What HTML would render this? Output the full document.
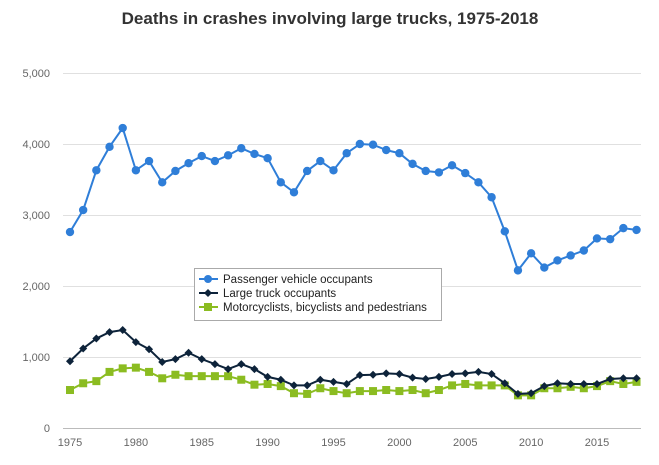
<!DOCTYPE html>
<html><head><meta charset="utf-8"><style>
body{margin:0;background:#fff;font-family:"Liberation Sans",sans-serif}
svg text{font-family:"Liberation Sans",sans-serif}
</style></head><body>
<svg id="c" width="659" height="460">
<text x="330" y="24" text-anchor="middle" font-size="17" font-weight="bold" fill="#333">Deaths in crashes involving large trucks, 1975-2018</text>
<g id="grid"></g><g id="series"></g>
<g>
<rect x="194.5" y="268.5" width="247" height="52" fill="#fff" stroke="#aaa"/>
<g><line x1="199" x2="218" y1="279" y2="279" stroke="#2f7ed8" stroke-width="2"/><circle cx="208" cy="279" r="4" fill="#2f7ed8"/><text x="223" y="283" font-size="11.5" fill="#222">Passenger vehicle occupants</text></g>
<g><line x1="199" x2="218" y1="293" y2="293" stroke="#0d233a" stroke-width="2"/><path d="M208 289L212 293L208 297L204 293Z" fill="#0d233a"/><text x="223" y="297" font-size="11.5" fill="#222">Large truck occupants</text></g>
<g><line x1="199" x2="218" y1="307" y2="307" stroke="#8bbc21" stroke-width="2"/><rect x="204" y="303" width="8" height="8" fill="#8bbc21"/><text x="223" y="311" font-size="11.5" fill="#222">Motorcyclists, bicyclists and pedestrians</text></g>
</g>
</svg>
<script>
const years=[];for(let y=1975;y<=2018;y++)years.push(y);
const passenger=[2760,3070,3630,3960,4225,3630,3760,3460,3620,3730,3830,3760,3840,3940,3860,3800,3460,3320,3620,3760,3630,3870,4000,3990,3915,3870,3720,3620,3600,3700,3590,3460,3250,2770,2220,2460,2260,2360,2430,2500,2670,2660,2815,2790];
const truck=[940,1120,1260,1350,1380,1210,1110,930,970,1060,970,900,830,900,830,720,680,600,600,680,650,620,745,750,770,760,710,690,720,760,770,790,760,630,480,490,590,630,620,620,620,690,700,700];
const moto=[535,630,660,790,840,850,790,700,750,730,730,730,730,680,610,620,590,490,480,560,520,490,520,520,535,520,535,490,535,600,620,600,600,600,460,460,560,560,580,560,590,660,620,650];
const yTicks=[0,1000,2000,3000,4000,5000];
const yLabels=["0","1,000","2,000","3,000","4,000","5,000"];
const xTicks=[1975,1980,1985,1990,1995,2000,2005,2010,2015];
const NS="http://www.w3.org/2000/svg";
const X=y=>70+(y-1975)*13.175, Y=v=>428-v*0.071;
function mk(t,a,p){const e=document.createElementNS(NS,t);for(const k in a)e.setAttribute(k,a[k]);p.appendChild(e);return e;}
const g=document.getElementById('grid');
yTicks.forEach((v,i)=>{const l=mk('line',{x1:63,x2:641,y1:Y(v)+.5,y2:Y(v)+.5,stroke:i==0?'#bbb':'#e0e0e0'},g);


const t=mk('text',{x:50,y:Y(v)+4,'text-anchor':'end','font-size':11,fill:'#666'},g);t.textContent=yLabels[i];

});
xTicks.forEach(y=>{const t=mk('text',{x:X(y),y:446,'text-anchor':'middle','font-size':11,fill:'#666'},g);t.textContent=y;

});
const s=document.getElementById('series');
function series(data,color,shape,name){
const pl=mk('polyline',{points:data.map((v,i)=>X(years[i])+','+Y(v)).join(' '),fill:'none',stroke:color,'stroke-width':2},s);


data.forEach((v,i)=>{const x=X(years[i]),y=Y(v);let e;
if(shape=='c')e=mk('circle',{cx:x,cy:y,r:4.2,fill:color},s);
else if(shape=='d')e=mk('path',{d:`M${x} ${y-4}L${x+4} ${y}L${x} ${y+4}L${x-4} ${y}Z`,fill:color},s);
else e=mk('rect',{x:x-4,y:y-4,width:8,height:8,fill:color},s);

});}
series(passenger,'#2f7ed8','c','passenger');
series(moto,'#8bbc21','s','motorcyclists');
series(truck,'#0d233a','d','truck');
</script>
</body></html>
